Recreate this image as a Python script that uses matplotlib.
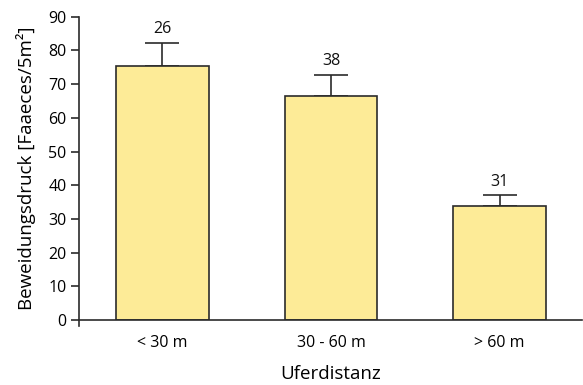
import matplotlib
matplotlib.use("Agg")
import matplotlib.pyplot as plt
import numpy as np

categories = ["< 30 m", "30 - 60 m", "> 60 m"]
values = [75.3, 66.4, 33.9]
errors = [6.9, 6.3, 3.1]
counts = ["26", "38", "31"]
yticks = [0, 10, 20, 30, 40, 50, 60, 70, 80, 90]

plt.rcParams['font.family'] = ['Open Sans', 'DejaVu Sans']

fig = plt.figure(figsize=(5.83, 3.85), dpi=100)
ax = fig.add_axes([0.1355, 0.1688, 0.8625, 0.7878])

x = np.arange(len(categories))
edge = "#2b2b2b"
ax.bar(x, values, width=0.55, color="#fdeb97", edgecolor=edge, linewidth=1.2, zorder=2)
ax.errorbar(x, values, yerr=[np.zeros(len(values)), errors], fmt="none",
            ecolor=edge, elinewidth=1.2, capsize=12.5, capthick=1.2, zorder=1)
for xi, v, e, c in zip(x, values, errors, counts):
    ax.annotate(c, (xi, v + e), xytext=(0, 4), textcoords="offset points",
                ha="center", va="bottom", fontsize=11.5, color="#111111")

ax.set_xlim(-0.495, 2.487)
ax.set_ylim(0, 90)
ax.set_yticks(yticks)
ax.set_xticks(x)
ax.set_xticklabels(categories, fontsize=11.5)
ax.tick_params(axis="x", length=0, pad=11)
ax.tick_params(axis="y", direction="out", length=6, width=1.2, color=edge, labelsize=11.5, pad=3)
for s in ["top", "right"]:
    ax.spines[s].set_visible(False)
for s in ["left", "bottom"]:
    ax.spines[s].set_linewidth(1.2)
    ax.spines[s].set_color(edge)
ax.spines["left"].set_bounds(-1.8, 90)

ax.set_xlabel("Uferdistanz", fontsize=13.5, labelpad=10)
ax.set_ylabel("Beweidungsdruck [Faaeces/5m²]", fontsize=13.5, labelpad=9)

fig.savefig("out.png", dpi=100)
